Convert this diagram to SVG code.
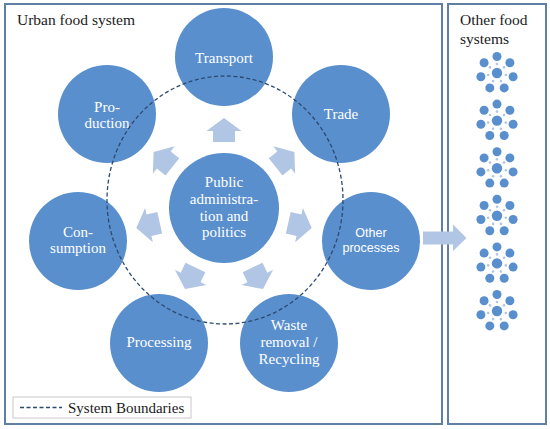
<svg xmlns="http://www.w3.org/2000/svg" xmlns:xlink="http://www.w3.org/1999/xlink" width="550" height="429" viewBox="0 0 550 429">
<style>
.frame{fill:#fff;stroke:#5f7fa3;stroke-width:2}
.node{fill:#5a8fce}
.arr{fill:#b1c5e4}
.lbl{font-family:"Liberation Serif",serif;font-size:15px;fill:#fff;text-anchor:middle}
.lbls{font-family:"Liberation Sans",sans-serif;font-size:12.5px;fill:#fff;text-anchor:middle}
.ttl{font-family:"Liberation Serif",serif;font-size:15.5px;fill:#1a1a1a}
.bnd{fill:none;stroke:#2c4a70;stroke-width:1.3;stroke-dasharray:4 2.5}
</style>
<defs>
<polygon id="ah" points="0,-12 17.5,1 11,1 11,12 -11,12 -11,1 -17.5,1"/>
<g id="cl">
<circle r="5.2" fill="#5a8fce"/>
<g fill="#5a8fce">
<circle cx="0" cy="-16.5" r="4.5"/>
<circle cx="12.9" cy="-10.3" r="4.5"/>
<circle cx="16.1" cy="3.7" r="4.5"/>
<circle cx="7.2" cy="14.9" r="4.5"/>
<circle cx="-7.2" cy="14.9" r="4.5"/>
<circle cx="-16.1" cy="3.7" r="4.5"/>
<circle cx="-12.9" cy="-10.3" r="4.5"/>
</g>
<g fill="#b1c5e4">
<circle cx="0" cy="-9" r="1.3"/>
<circle cx="7" cy="-5.6" r="1.3"/>
<circle cx="8.8" cy="2" r="1.3"/>
<circle cx="3.9" cy="8.1" r="1.3"/>
<circle cx="-3.9" cy="8.1" r="1.3"/>
<circle cx="-8.8" cy="2" r="1.3"/>
<circle cx="-7" cy="-5.6" r="1.3"/>
</g>
</g>
</defs>
<rect width="550" height="429" fill="#fff"/>
<g id="frames">
<rect class="frame" x="5" y="4" width="437" height="420"/>
<rect class="frame" x="448" y="4" width="98" height="420"/>
<text class="ttl" x="17" y="25">Urban food system</text>
<text class="ttl" x="460" y="25">Other food</text>
<text class="ttl" x="460" y="44">systems</text>
</g>
<g id="connectors">
<use href="#ah" xlink:href="#ah" class="arr" transform="translate(224,130)"/>
<use href="#ah" xlink:href="#ah" class="arr" transform="translate(285,159.4) rotate(51.43)"/>
<use href="#ah" xlink:href="#ah" class="arr" transform="translate(300,225.4) rotate(102.86)"/>
<use href="#ah" xlink:href="#ah" class="arr" transform="translate(257.8,278.3) rotate(154.29)"/>
<use href="#ah" xlink:href="#ah" class="arr" transform="translate(190.2,278.3) rotate(205.71)"/>
<use href="#ah" xlink:href="#ah" class="arr" transform="translate(148,225.4) rotate(257.14)"/>
<use href="#ah" xlink:href="#ah" class="arr" transform="translate(163,159.4) rotate(308.57)"/>
<polygon class="arr" points="423,231.5 453,231.5 453,224.5 466.5,238 453,251 453,244.5 423,244.5"/>
</g>
<g id="n-transport"><circle class="node" cx="224" cy="57" r="49"/><text class="lbl" x="224" y="63">Transport</text></g>
<g id="n-trade"><circle class="node" cx="341" cy="114" r="49"/><text class="lbl" x="341" y="119">Trade</text></g>
<g id="n-other"><circle class="node" cx="371" cy="241" r="49"/><text class="lbls" x="371" y="237">Other</text><text class="lbls" x="371" y="252">processes</text></g>
<g id="n-waste"><circle class="node" cx="289" cy="343" r="49"/><text class="lbl" x="289" y="330">Waste</text><text class="lbl" x="289" y="347">removal /</text><text class="lbl" x="289" y="364">Recycling</text></g>
<g id="n-processing"><circle class="node" cx="159" cy="343" r="49"/><text class="lbl" x="159" y="347">Processing</text></g>
<g id="n-consumption"><circle class="node" cx="78" cy="241" r="49"/><text class="lbl" x="78" y="237">Con-</text><text class="lbl" x="78" y="253">sumption</text></g>
<g id="n-production"><circle class="node" cx="107" cy="114" r="49"/><text class="lbl" x="107" y="112">Pro-</text><text class="lbl" x="107" y="128">duction</text></g>
<g id="n-public"><circle class="node" cx="224" cy="208" r="55"/><text class="lbl" x="224" y="187">Public</text><text class="lbl" x="224" y="204">administra-</text><text class="lbl" x="224" y="220.5">tion and</text><text class="lbl" x="224" y="237">politics</text></g>
<g id="boundary"><ellipse class="bnd" cx="225" cy="200" rx="118" ry="124"/></g>
<g id="n-others">
<use href="#cl" xlink:href="#cl" x="497" y="73"/>
<use href="#cl" xlink:href="#cl" x="497" y="120.6"/>
<use href="#cl" xlink:href="#cl" x="497" y="168.2"/>
<use href="#cl" xlink:href="#cl" x="497" y="215.8"/>
<use href="#cl" xlink:href="#cl" x="497" y="263.4"/>
<use href="#cl" xlink:href="#cl" x="497" y="311"/>
</g>
<g id="legend">
<rect x="13" y="397" width="178" height="21" fill="#fff" stroke="#c8c8c8" stroke-width="1"/>
<line class="bnd" x1="20" y1="407.5" x2="62" y2="407.5"/>
<text class="ttl" x="68" y="412.5" style="font-size:15px">System Boundaries</text>
</g>
</svg>
